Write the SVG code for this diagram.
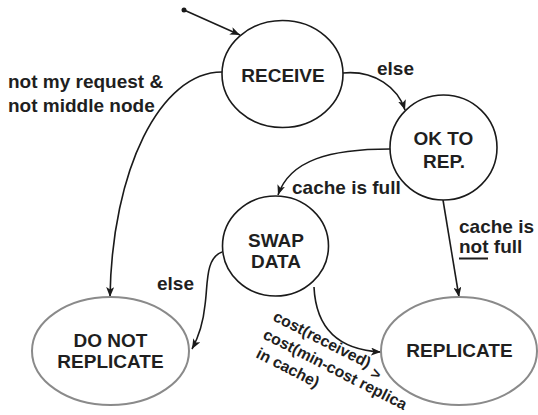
<svg xmlns="http://www.w3.org/2000/svg" width="538" height="415" viewBox="0 0 538 415">
  <defs>
    <marker id="arrow" viewBox="0 0 10 8" refX="10" refY="4" markerWidth="10" markerHeight="8" markerUnits="userSpaceOnUse" orient="auto">
      <path d="M0,0 L10,4 L0,8 L2.5,4 Z" fill="#1a1a1a"/>
    </marker>
    <style>
      .state { fill: #fff; stroke: #1a1a1a; stroke-width: 1.6; }
      .final { fill: #fff; stroke: #8a8a8a; stroke-width: 2; }
      .name { font-family: "Liberation Sans", Arial, sans-serif; font-weight: bold; font-size: 19px; fill: #1f1f1f; text-anchor: middle; }
      .lbl { font-family: "Liberation Sans", Arial, sans-serif; font-weight: bold; font-size: 19px; fill: #1f1f1f; }
      .small { font-family: "Liberation Sans", Arial, sans-serif; font-weight: bold; font-size: 15.8px; fill: #1f1f1f; }
      .edge { fill: none; stroke: #1a1a1a; stroke-width: 1.6; marker-end: url(#arrow); }
    </style>
  </defs>

  <!-- transitions -->
  <g id="connectors">
    <circle cx="184" cy="10" r="2.5" fill="#1a1a1a"/>
    <path class="edge" d="M184,10 L240,35"/>
    <path class="edge" d="M222,72 C160,72 112,170 110,297"/>
    <path class="edge" d="M343,73 C375,70 398,88 405,110"/>
    <path class="edge" d="M390,149 C330,149 290,160 278,195"/>
    <path class="edge" d="M443,200 L459,297"/>
    <path class="edge" d="M222,252 C205,258 208,285 205,305 C203,325 198,338 192,349"/>
    <path class="edge" d="M314,287 C316,330 340,350 381,352"/>
  </g>

  <!-- transition labels -->
  <g id="labels">
    <text class="lbl" x="8" y="88">not my request &amp;</text>
    <text class="lbl" x="8" y="112">not middle node</text>
    <text class="lbl" x="377" y="75">else</text>
    <text class="lbl" x="292" y="194">cache is full</text>
    <text class="lbl" x="459" y="233">cache is</text>
    <text class="lbl" x="459" y="253">not full</text>
    <line x1="459" y1="258.5" x2="488" y2="258.5" stroke="#1f1f1f" stroke-width="2"/>
    <text class="lbl" x="157" y="290">else</text>
    <text class="small" transform="translate(272,320) rotate(27)">cost(received) <tspan dx="1" dy="6">&gt;</tspan></text>
    <text class="small" transform="translate(262,338) rotate(27)">cost(min-cost replica</text>
    <text class="small" transform="translate(255,357) rotate(27)">in cache)</text>
  </g>

  <g id="receive">
    <ellipse class="state" cx="282.5" cy="74" rx="60.5" ry="53.5"/>
    <text class="name" x="283" y="82">RECEIVE</text>
  </g>

  <g id="ok-to-rep">
    <ellipse class="state" cx="443.5" cy="147.5" rx="53.5" ry="52.5"/>
    <text class="name" x="443.5" y="145">OK TO</text>
    <text class="name" x="444" y="168">REP.</text>
  </g>

  <g id="swap-data">
    <ellipse class="state" cx="275.5" cy="246" rx="53" ry="50"/>
    <text class="name" x="276" y="247">SWAP</text>
    <text class="name" x="276" y="268">DATA</text>
  </g>

  <g id="do-not-replicate">
    <ellipse class="final" cx="110.5" cy="351" rx="78.5" ry="54"/>
    <text class="name" x="110.5" y="347">DO NOT</text>
    <text class="name" x="110.5" y="368">REPLICATE</text>
  </g>

  <g id="replicate">
    <ellipse class="final" cx="459" cy="351" rx="78" ry="54"/>
    <text class="name" x="459.5" y="357">REPLICATE</text>
  </g>
</svg>
